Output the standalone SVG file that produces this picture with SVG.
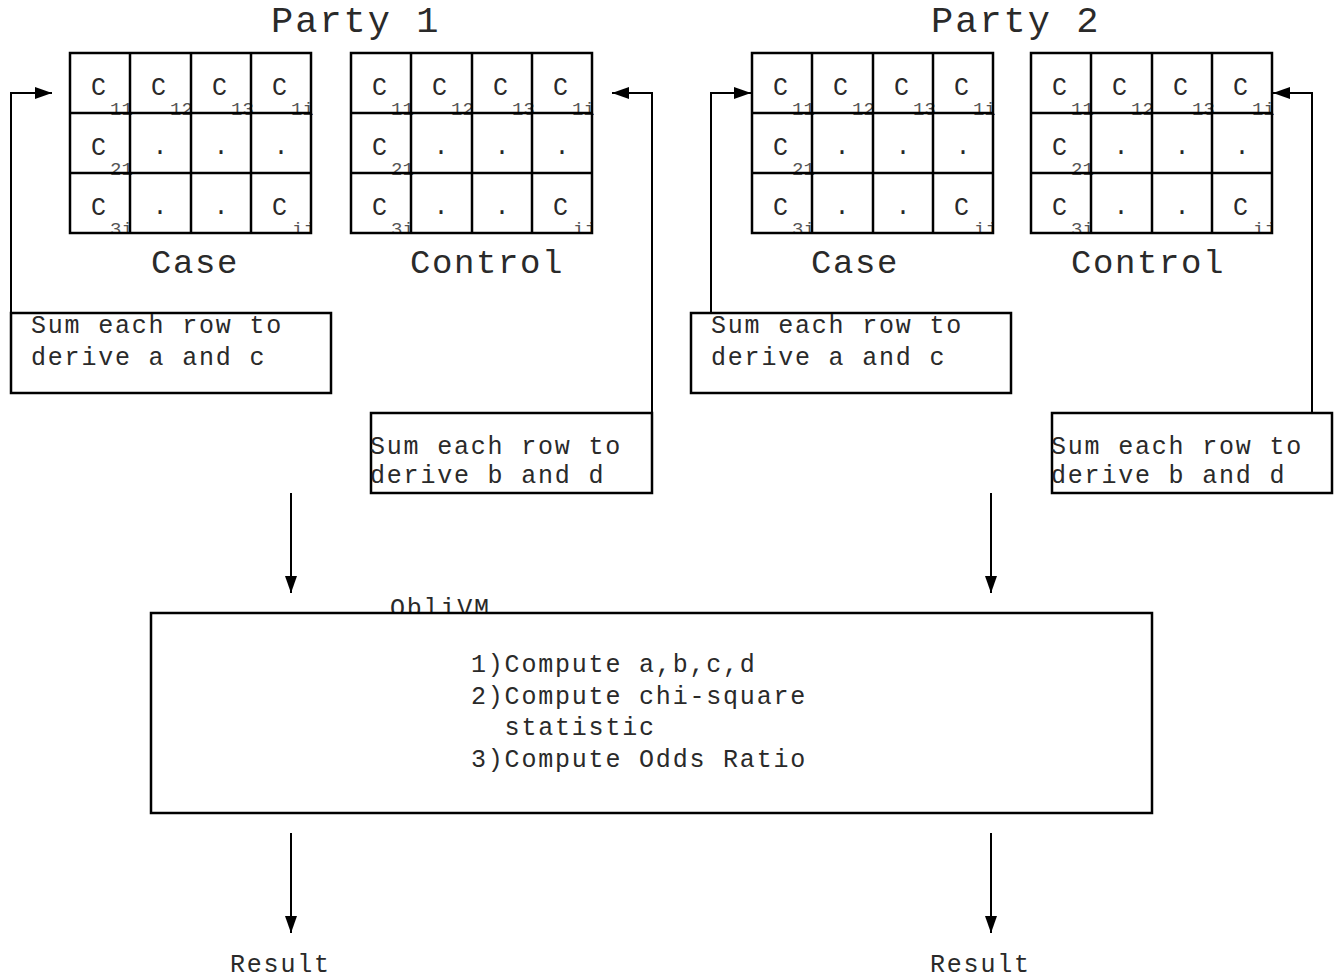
<svg xmlns="http://www.w3.org/2000/svg" width="1341" height="980" viewBox="0 0 1341 980">
<style>
.t{font-family:"Liberation Mono","Courier New",monospace;fill:#2a2a2a}
.title{font-size:37px;letter-spacing:2px}
.lab{font-size:34px;letter-spacing:1.6px}
.body{font-size:25px;letter-spacing:1.8px}
.cell{font-size:25px}
.sub{font-size:19px;fill:#555}
.ln{fill:none;stroke:#000;stroke-width:2.5}
.box{fill:#fff;stroke:#000;stroke-width:2.5}
.con{fill:none;stroke:#000;stroke-width:2}
</style>
<defs>
<marker id="ah" viewBox="0 0 17 12" refX="17" refY="6" markerWidth="17" markerHeight="12" orient="auto" markerUnits="userSpaceOnUse"><path d="M0,0L17,6L0,12z" fill="#000"/></marker>
<clipPath id="gc" clipPathUnits="userSpaceOnUse"><rect x="0" y="53" width="243" height="180"/></clipPath>
</defs>
<rect width="1341" height="980" fill="#fff"/>

<g id="title-party1"><text class="t title" x="271" y="32">Party 1</text></g>
<g id="title-party2"><text class="t title" x="931" y="32">Party 2</text></g>

<g id="p1-case-grid" transform="translate(70,0)">
<g class="t cell"><text x="21" y="95">C</text><text x="81" y="95">C</text><text x="142" y="95">C</text><text x="202" y="95">C</text><text x="21" y="155">C</text><text x="21" y="215">C</text><text x="202" y="215">C</text></g>
<g class="t cell" text-anchor="middle"><text x="90" y="154">.</text><text x="151" y="154">.</text><text x="211" y="154">.</text><text x="90" y="214">.</text><text x="151" y="214">.</text></g>
<g class="t sub" clip-path="url(#gc)"><text x="40" y="115">11</text><text x="100" y="115">12</text><text x="161" y="115">13</text><text x="221" y="115">1i</text><text x="40" y="175">21</text><text x="40" y="235">3i</text><text x="222" y="235">ij</text></g>
<rect class="ln" x="0" y="53" width="241" height="180"/>
<path class="ln" d="M60,53V233M121,53V233M181,53V233M0,113H241M0,173H241"/>
</g>
<g id="p1-case-label"><text class="t lab" x="151" y="273">Case</text></g>

<g id="p1-control-grid" transform="translate(351,0)">
<g class="t cell"><text x="21" y="95">C</text><text x="81" y="95">C</text><text x="142" y="95">C</text><text x="202" y="95">C</text><text x="21" y="155">C</text><text x="21" y="215">C</text><text x="202" y="215">C</text></g>
<g class="t cell" text-anchor="middle"><text x="90" y="154">.</text><text x="151" y="154">.</text><text x="211" y="154">.</text><text x="90" y="214">.</text><text x="151" y="214">.</text></g>
<g class="t sub" clip-path="url(#gc)"><text x="40" y="115">11</text><text x="100" y="115">12</text><text x="161" y="115">13</text><text x="221" y="115">1i</text><text x="40" y="175">21</text><text x="40" y="235">3i</text><text x="222" y="235">ij</text></g>
<rect class="ln" x="0" y="53" width="241" height="180"/>
<path class="ln" d="M60,53V233M121,53V233M181,53V233M0,113H241M0,173H241"/>
</g>
<g id="p1-control-label"><text class="t lab" x="410" y="273">Control</text></g>

<g id="p2-case-grid" transform="translate(752,0)">
<g class="t cell"><text x="21" y="95">C</text><text x="81" y="95">C</text><text x="142" y="95">C</text><text x="202" y="95">C</text><text x="21" y="155">C</text><text x="21" y="215">C</text><text x="202" y="215">C</text></g>
<g class="t cell" text-anchor="middle"><text x="90" y="154">.</text><text x="151" y="154">.</text><text x="211" y="154">.</text><text x="90" y="214">.</text><text x="151" y="214">.</text></g>
<g class="t sub" clip-path="url(#gc)"><text x="40" y="115">11</text><text x="100" y="115">12</text><text x="161" y="115">13</text><text x="221" y="115">1i</text><text x="40" y="175">21</text><text x="40" y="235">3i</text><text x="222" y="235">ij</text></g>
<rect class="ln" x="0" y="53" width="241" height="180"/>
<path class="ln" d="M60,53V233M121,53V233M181,53V233M0,113H241M0,173H241"/>
</g>
<g id="p2-case-label"><text class="t lab" x="811" y="273">Case</text></g>

<g id="p2-control-grid" transform="translate(1031,0)">
<g class="t cell"><text x="21" y="95">C</text><text x="81" y="95">C</text><text x="142" y="95">C</text><text x="202" y="95">C</text><text x="21" y="155">C</text><text x="21" y="215">C</text><text x="202" y="215">C</text></g>
<g class="t cell" text-anchor="middle"><text x="90" y="154">.</text><text x="151" y="154">.</text><text x="211" y="154">.</text><text x="90" y="214">.</text><text x="151" y="214">.</text></g>
<g class="t sub" clip-path="url(#gc)"><text x="40" y="115">11</text><text x="100" y="115">12</text><text x="161" y="115">13</text><text x="221" y="115">1i</text><text x="40" y="175">21</text><text x="40" y="235">3i</text><text x="222" y="235">ij</text></g>
<rect class="ln" x="0" y="53" width="241" height="180"/>
<path class="ln" d="M60,53V233M121,53V233M181,53V233M0,113H241M0,173H241"/>
</g>
<g id="p2-control-label"><text class="t lab" x="1071" y="273">Control</text></g>

<g id="p1-sum-ac">
<rect class="box" x="11" y="313" width="320" height="80"/>
<text class="t body" x="31" y="333">Sum each row to</text>
<text class="t body" x="31" y="365">derive a and c</text>
</g>
<g id="p1-sum-bd">
<rect class="box" x="371" y="413" width="281" height="80"/>
<text class="t body" x="370" y="454">Sum each row to</text>
<text class="t body" x="370" y="483">derive b and d</text>
</g>
<g id="p2-sum-ac">
<rect class="box" x="691" y="313" width="320" height="80"/>
<text class="t body" x="711" y="333">Sum each row to</text>
<text class="t body" x="711" y="365">derive a and c</text>
</g>
<g id="p2-sum-bd">
<rect class="box" x="1052" y="413" width="280" height="80"/>
<text class="t body" x="1051" y="454">Sum each row to</text>
<text class="t body" x="1051" y="483">derive b and d</text>
</g>

<g id="oblivm">
<text class="t body" x="390" y="616">ObliVM</text>
<rect class="box" x="151" y="613" width="1001" height="200"/>
<text class="t body" x="471" y="672">1)Compute a,b,c,d</text>
<text class="t body" x="471" y="703.5">2)Compute chi-square</text>
<text class="t body" x="504.6" y="735">statistic</text>
<text class="t body" x="471" y="766.5">3)Compute Odds Ratio</text>
</g>

<g id="result-1"><text class="t body" x="230" y="972">Result</text></g>
<g id="result-2"><text class="t body" x="930" y="972">Result</text></g>

<g id="connectors">
<polyline class="con" points="11,313 11,93 52,93" marker-end="url(#ah)"/>
<polyline class="con" points="652,413 652,93 612,93" marker-end="url(#ah)"/>
<polyline class="con" points="711,313 711,93 751,93" marker-end="url(#ah)"/>
<polyline class="con" points="1312,413 1312,93 1273,93" marker-end="url(#ah)"/>
<line class="con" x1="291" y1="493" x2="291" y2="593" marker-end="url(#ah)"/>
<line class="con" x1="991" y1="493" x2="991" y2="593" marker-end="url(#ah)"/>
<line class="con" x1="291" y1="833" x2="291" y2="933" marker-end="url(#ah)"/>
<line class="con" x1="991" y1="833" x2="991" y2="933" marker-end="url(#ah)"/>
</g>
</svg>
